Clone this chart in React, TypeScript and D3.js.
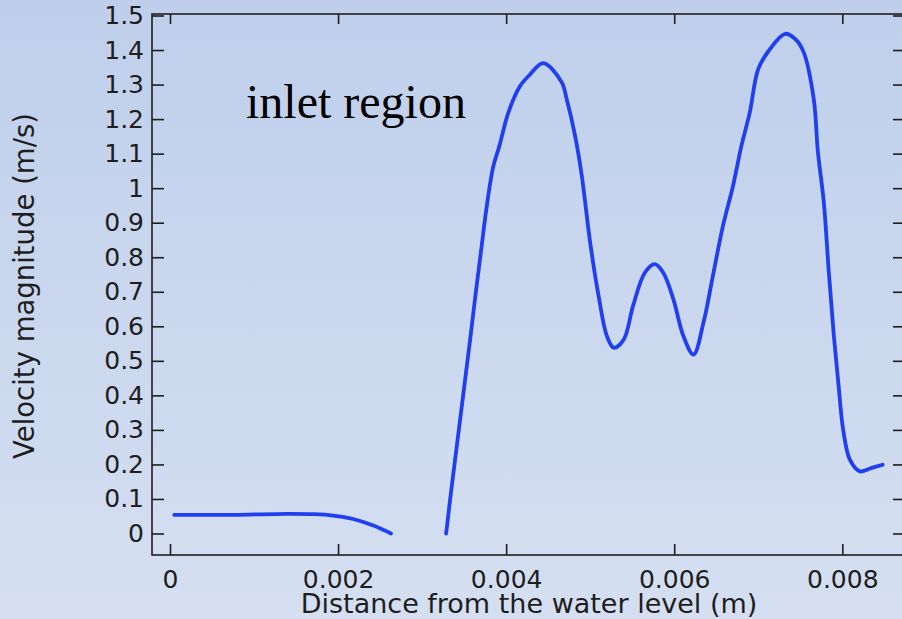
import { useRef, useEffect } from "react";
import * as d3 from "d3";

// Velocity along the line, two pieces (gap between them in the reference)
const upperX = [0.00005, 0.00075, 0.00139, 0.00171, 0.00194, 0.00218, 0.00242, 0.00263];
const upperV = [0.054, 0.054, 0.057, 0.056, 0.052, 0.042, 0.023, 0.0];

const inletX = [
  0.003286, 0.003347, 0.003442, 0.003566, 0.003633, 0.003708, 0.003763, 0.003847, 0.003918, 0.004025,
  0.004164, 0.004283, 0.004442, 0.00466, 0.00472, 0.00482, 0.0049, 0.005, 0.0051, 0.0052,
  0.00528, 0.0054, 0.00551, 0.00565, 0.00577, 0.00587, 0.00599, 0.00611, 0.00623, 0.00635,
  0.00646, 0.00658, 0.0067, 0.0068, 0.0069, 0.007, 0.00714, 0.00732, 0.00744, 0.00754,
  0.00766, 0.00771, 0.00778, 0.00784, 0.0079, 0.00796, 0.00801, 0.00809, 0.00821, 0.00835,
  0.00848,
];
const inletV = [
  0.0, 0.126, 0.31, 0.551, 0.686, 0.831, 0.937, 1.063, 1.121, 1.218,
  1.295, 1.329, 1.362, 1.307, 1.258, 1.152, 1.036, 0.842, 0.688, 0.571,
  0.538, 0.562, 0.659, 0.755, 0.78, 0.755, 0.678, 0.571, 0.518, 0.613,
  0.746, 0.891, 1.007, 1.123, 1.22, 1.345, 1.403, 1.447, 1.432, 1.394,
  1.258, 1.104, 0.959, 0.755, 0.571, 0.417, 0.301, 0.214, 0.18, 0.19,
  0.199,
];

const xTicks = [0, 0.002, 0.004, 0.006, 0.008];
const yTicks = [0, 0.1, 0.2, 0.3, 0.4, 0.5, 0.6, 0.7, 0.8, 0.9, 1, 1.1, 1.2, 1.3, 1.4, 1.5];

const width = 902;
const height = 619;

const App = () => {
  const svgRef = useRef<SVGSVGElement | null>(null);

  useEffect(() => {
    if (!svgRef.current) return;
    const svg = d3.select(svgRef.current);
    svg.selectAll("*").remove();

    const box = { left: 152, right: 904, top: 14, bottom: 555 };
    const font = "'DejaVu Sans', sans-serif";
    const ink = "#1e1e1e";

    // background gradient
    const grad = svg
      .append("defs")
      .append("linearGradient")
      .attr("id", "bg")
      .attr("x1", 0)
      .attr("y1", 0)
      .attr("x2", 0)
      .attr("y2", 1);
    grad.append("stop").attr("offset", "0%").attr("stop-color", "#bfcfeb");
    grad.append("stop").attr("offset", "100%").attr("stop-color", "#d5dff1");
    svg.append("rect").attr("width", width).attr("height", height).attr("fill", "url(#bg)");

    const x = d3.scaleLinear().domain([0, 0.008]).range([170, 842.3]);
    const y = d3.scaleLinear().domain([0, 1.5]).range([533.5, 15.5]);

    const fmt = (d: d3.NumberValue) => String(d);

    // left axis, ticks pointing inward
    const left = svg
      .append("g")
      .attr("transform", `translate(${box.left},0)`)
      .call(d3.axisLeft(y).tickValues(yTicks).tickFormat(fmt).tickSizeInner(-12).tickSizeOuter(0).tickPadding(8));
    // right axis, ticks only
    const right = svg
      .append("g")
      .attr("transform", `translate(${box.right},0)`)
      .call(d3.axisRight(y).tickValues(yTicks).tickFormat(() => "").tickSizeInner(-11).tickSizeOuter(0));
    // bottom axis
    const bottom = svg
      .append("g")
      .attr("transform", `translate(0,${box.bottom})`)
      .call(d3.axisBottom(x).tickValues(xTicks).tickFormat(fmt).tickSizeInner(-11).tickSizeOuter(0).tickPadding(15));
    // top axis, ticks only
    const top = svg
      .append("g")
      .attr("transform", `translate(0,${box.top})`)
      .call(d3.axisTop(x).tickValues(xTicks).tickFormat(() => "").tickSizeInner(-10).tickSizeOuter(0));

    [left, right, bottom, top].forEach((g) => {
      g.select(".domain").remove();
      g.selectAll("line").attr("stroke", ink).attr("stroke-width", 1.6);
      g.selectAll("text").attr("fill", ink).style("font-family", font).style("font-size", "25px");
    });
    bottom.selectAll("text").attr("dy", "0.71em");

    // frame
    svg
      .append("rect")
      .attr("x", box.left)
      .attr("y", box.top)
      .attr("width", box.right - box.left)
      .attr("height", box.bottom - box.top)
      .attr("fill", "none")
      .attr("stroke", ink)
      .attr("stroke-width", 1.6);

    // curve
    const line = d3
      .line<[number, number]>()
      .x((d) => x(d[0]))
      .y((d) => y(d[1]))
      .curve(d3.curveCatmullRom.alpha(0.5));

    const pieces: [number, number][][] = [
      upperX.map((v, i) => [v, upperV[i]]),
      inletX.map((v, i) => [v, inletV[i]]),
    ];
    svg
      .selectAll("path.curve")
      .data(pieces)
      .enter()
      .append("path")
      .attr("class", "curve")
      .attr("d", (d) => line(d))
      .attr("fill", "none")
      .attr("stroke", "#1f3ff0")
      .attr("stroke-width", 3.8)
      .attr("stroke-linejoin", "round")
      .attr("stroke-linecap", "round");

    // annotation
    svg
      .append("text")
      .attr("x", 246)
      .attr("y", 118)
      .text("inlet region")
      .style("font-family", "'Liberation Serif', 'Times New Roman', serif")
      .style("font-size", "48px")
      .attr("fill", "#000");

    // axis titles
    svg
      .append("text")
      .attr("x", 529)
      .attr("y", 613)
      .attr("text-anchor", "middle")
      .text("Distance from the water level (m)")
      .style("font-family", font)
      .style("font-size", "27px")
      .attr("fill", ink);

    svg
      .append("text")
      .attr("transform", "translate(34,286) rotate(-90)")
      .attr("text-anchor", "middle")
      .text("Velocity magnitude (m/s)")
      .style("font-family", font)
      .style("font-size", "27.5px")
      .attr("fill", ink);
  }, []);

  return (
    <svg
      ref={svgRef}
      width={width}
      height={height}
      style={{ position: "absolute", left: 0, top: 0, display: "block" }}
    ></svg>
  );
};

export default App;
